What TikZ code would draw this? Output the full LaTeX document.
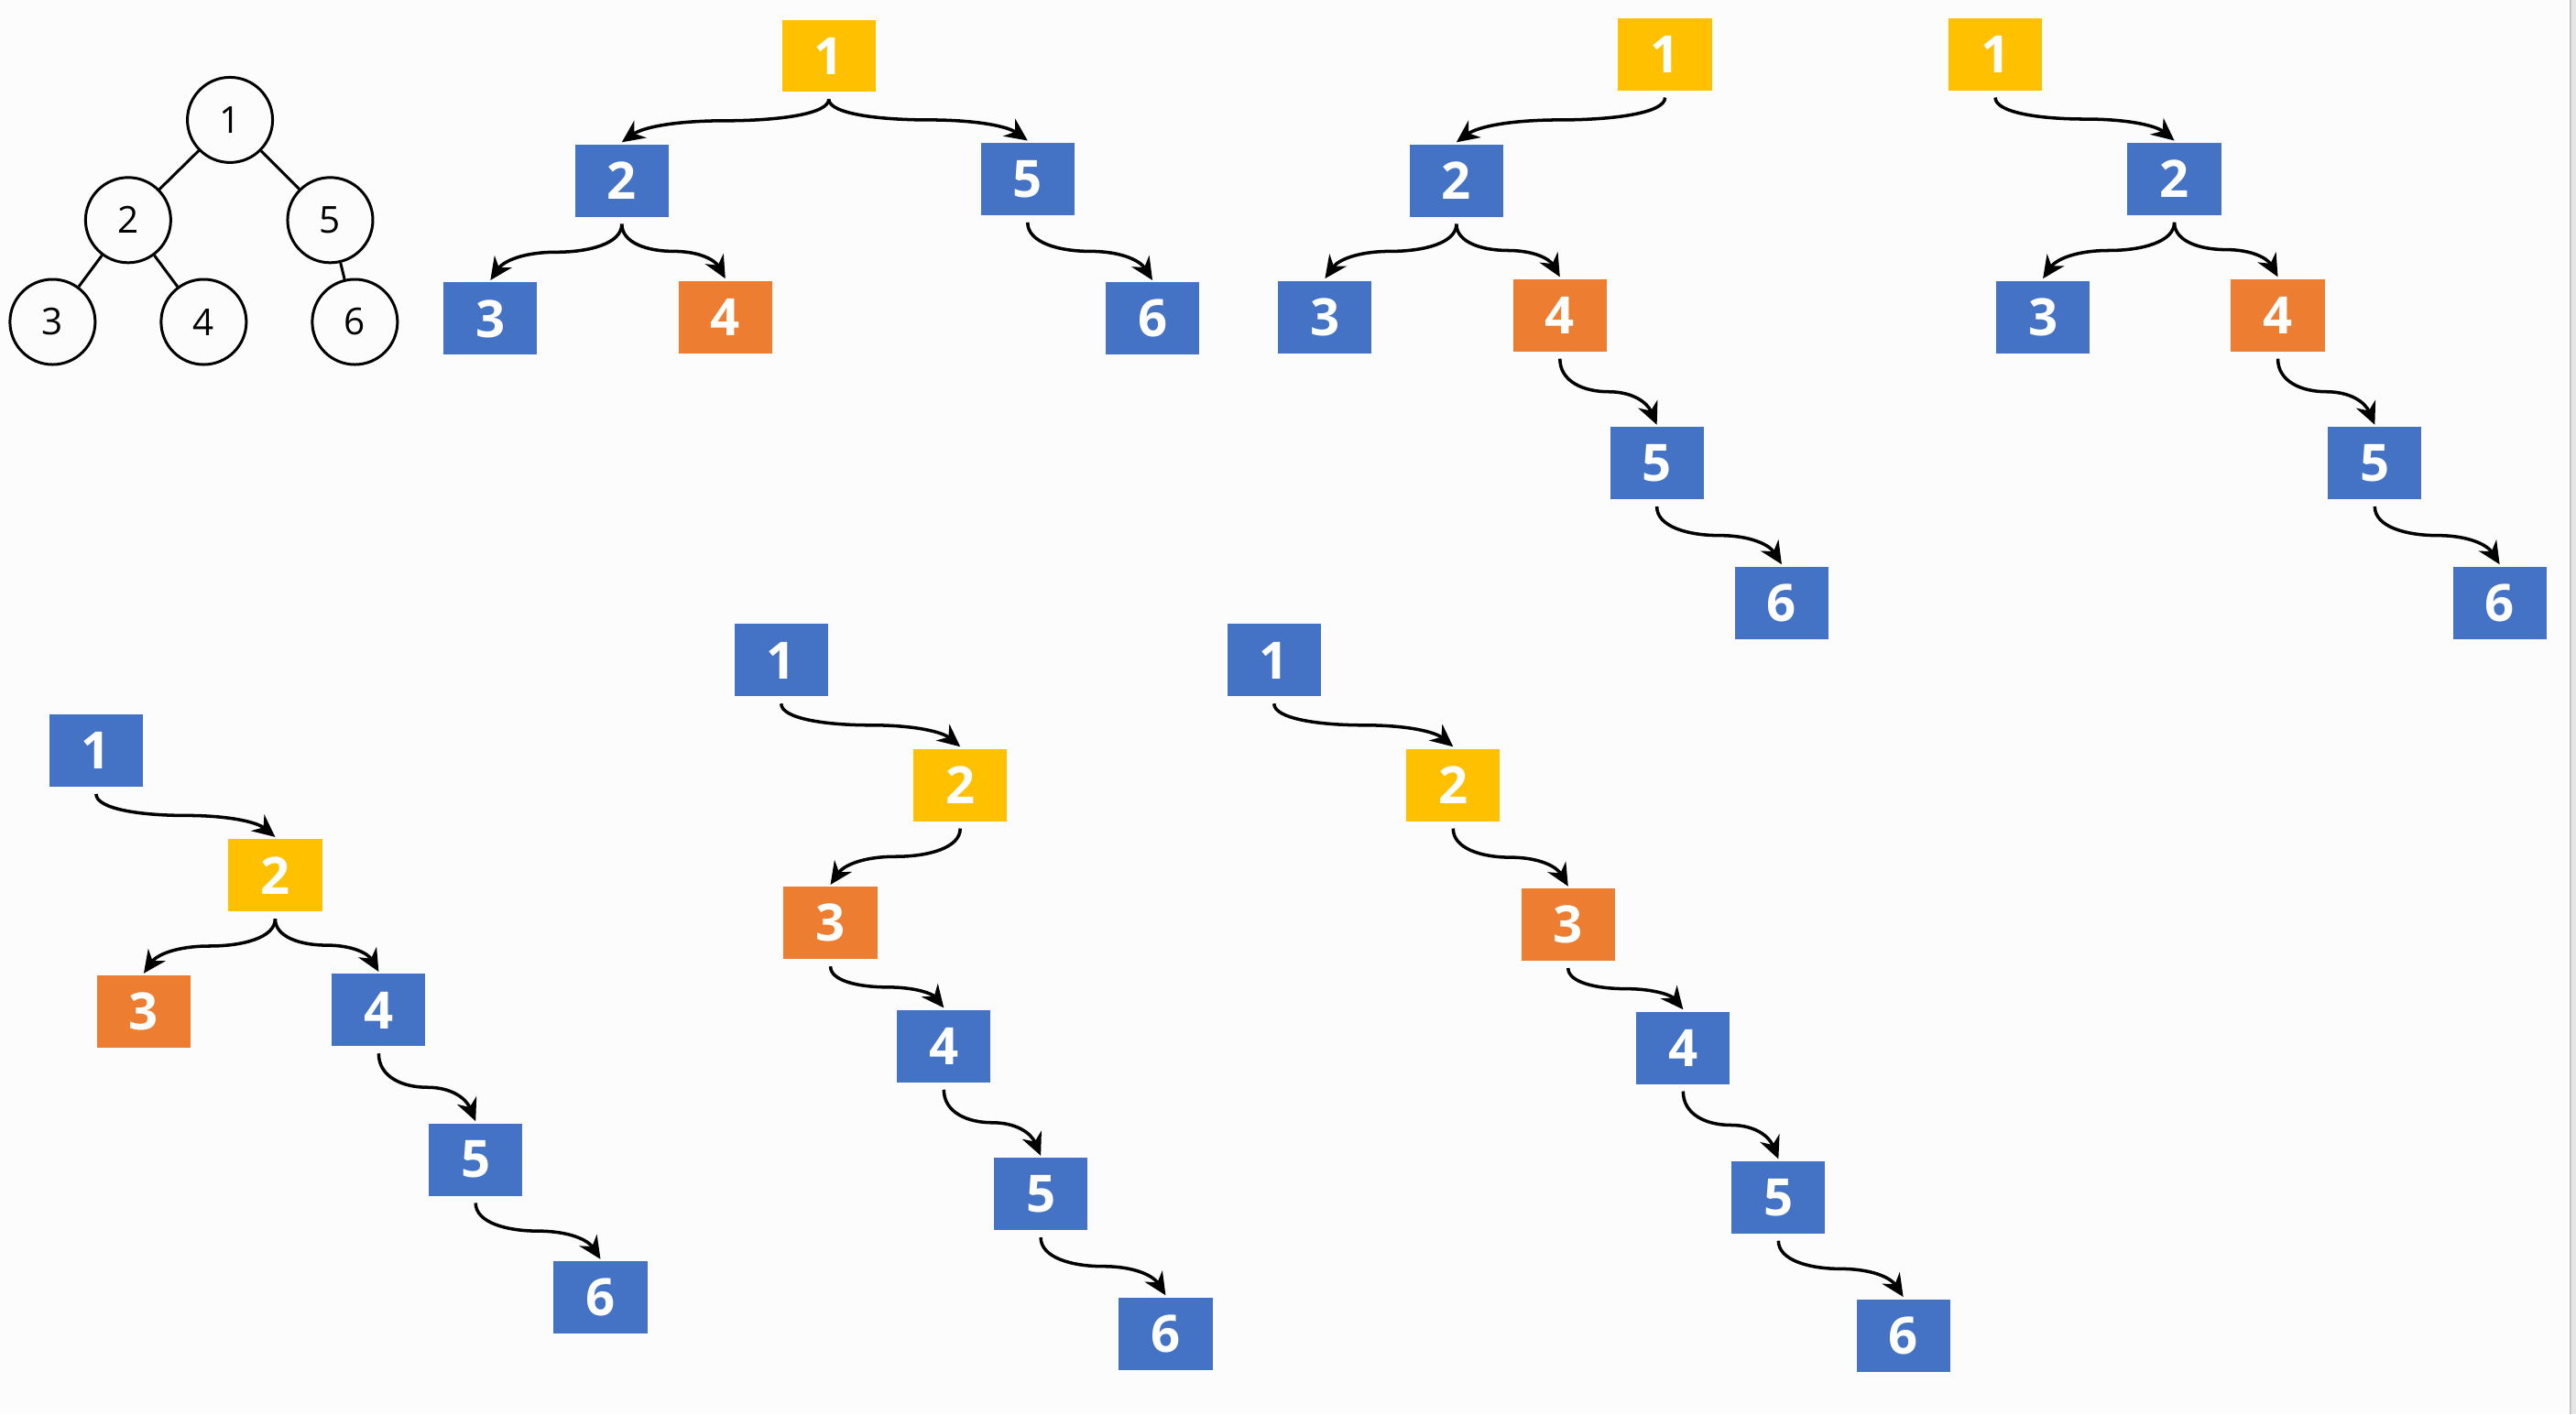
\documentclass[tikz,border=0pt]{standalone}
\usepackage{fontspec}
\setmainfont{Open Sans}
\usetikzlibrary{arrows.meta,calc}
\definecolor{cyel}{HTML}{FFC000}
\definecolor{cblu}{HTML}{4472C4}
\definecolor{corg}{HTML}{ED7D31}
\definecolor{bgc}{HTML}{FCFCFC}
\definecolor{edgec}{HTML}{E6E6E6}
\definecolor{edgel}{HTML}{C4C4C4}
\tikzset{
 box/.style={minimum width=1.022cm,minimum height=0.789cm,inner sep=0pt,text=white,font=\fontsize{16}{18}\selectfont\bfseries},
 yb/.style={box,fill=cyel},
 bb/.style={box,fill=cblu},
 ob/.style={box,fill=corg},
 circ/.style={circle,draw,line width=0.85pt,minimum size=0.93cm,inner sep=0pt,font=\fontsize{11.5}{13}\selectfont},
 conn/.style={draw,line width=1pt,-{Stealth[length=7pt,width=6.5pt]}},
 tline/.style={draw,line width=0.85pt},
}
\newcommand\tedge[2]{%
 \coordinate (s) at ($(#1.south)+(0,4)$);
 \coordinate (e) at ($(#2.north)+(0,-1)$);
 \coordinate (m) at ($(s)!0.5!(e)$);
 \coordinate (sm) at (s |- m);
 \coordinate (em) at (e |- m);
 \draw[conn] (s) .. controls ($(s)!0.7!(sm)$) and ($(m)!0.5!(sm)$) .. (m)
   .. controls ($(m)!0.5!(em)$) and ($(e)!0.6!(em)!0.2!(m)$) .. (e);
}
\begin{document}
\begin{tikzpicture}[x=0.017934cm,y=-0.017934cm]
\useasboundingbox (0,0) rectangle (1568,861);
\fill[bgc] (0,0) rectangle (1568,861);
\fill[edgec] (1564.6,0) rectangle (1568,861);
\draw[edgel,line width=0.6pt] (1564.6,0) -- (1564.6,861);

% circle tree
\node[circ] (c1) at (140,73) {1};
\node[circ] (c2) at (78,134) {2};
\node[circ] (c5) at (201,134) {5};
\node[circ] (c3) at (32,196) {3};
\node[circ] (c4) at (124,196) {4};
\node[circ] (c6) at (216,196) {6};
\draw[tline] (c1) -- (c2);
\draw[tline] (c1) -- (c5);
\draw[tline] (c2) -- (c3);
\draw[tline] (c2) -- (c4);
\draw[tline] (c5) -- (c6);

% tree A
\node[yb] (a1) at (504.5,34) {1};
\node[bb] (a2) at (378.5,110) {2};
\node[bb] (a5) at (625.5,109) {5};
\node[bb] (a3) at (298.5,194) {3};
\node[ob] (a4) at (441.5,193) {4};
\node[bb] (a6) at (701.5,194) {6};
\tedge{a1}{a2}\tedge{a1}{a5}\tedge{a2}{a3}\tedge{a2}{a4}\tedge{a5}{a6}

% tree B
\node[yb] (b1) at (1013.5,33) {1};
\node[bb] (b2) at (886.5,110) {2};
\node[bb] (b3) at (806.5,193) {3};
\node[ob] (b4) at (949.5,192) {4};
\node[bb] (b5) at (1008.5,282) {5};
\node[bb] (b6) at (1084.5,367) {6};
\tedge{b1}{b2}\tedge{b2}{b3}\tedge{b2}{b4}\tedge{b4}{b5}\tedge{b5}{b6}

% tree C
\node[yb] (d1) at (1214.5,33) {1};
\node[bb] (d2) at (1323.5,109) {2};
\node[bb] (d3) at (1243.5,193) {3};
\node[ob] (d4) at (1386.5,192) {4};
\node[bb] (d5) at (1445.5,282) {5};
\node[bb] (d6) at (1521.5,367) {6};
\tedge{d1}{d2}\tedge{d2}{d3}\tedge{d2}{d4}\tedge{d4}{d5}\tedge{d5}{d6}

% tree D
\node[bb] (f1) at (58.5,457) {1};
\node[yb] (f2) at (167.5,533) {2};
\node[ob] (f3) at (87.5,616) {3};
\node[bb] (f4) at (230.5,615) {4};
\node[bb] (f5) at (289.5,706) {5};
\node[bb] (f6) at (365.5,790) {6};
\tedge{f1}{f2}\tedge{f2}{f3}\tedge{f2}{f4}\tedge{f4}{f5}\tedge{f5}{f6}

% tree E
\node[bb] (g1) at (475.5,402) {1};
\node[yb] (g2) at (584.5,478) {2};
\node[ob] (g3) at (505.5,562) {3};
\node[bb] (g4) at (574.5,637) {4};
\node[bb] (g5) at (633.5,727) {5};
\node[bb] (g6) at (709.5,812) {6};
\tedge{g1}{g2}\tedge{g2}{g3}\tedge{g3}{g4}\tedge{g4}{g5}\tedge{g5}{g6}

% tree F
\node[bb] (h1) at (775.5,402) {1};
\node[yb] (h2) at (884.5,478) {2};
\node[ob] (h3) at (954.5,563) {3};
\node[bb] (h4) at (1024.5,638) {4};
\node[bb] (h5) at (1082.5,729) {5};
\node[bb] (h6) at (1158.5,813) {6};
\tedge{h1}{h2}\tedge{h2}{h3}\tedge{h3}{h4}\tedge{h4}{h5}\tedge{h5}{h6}
\end{tikzpicture}
\end{document}
